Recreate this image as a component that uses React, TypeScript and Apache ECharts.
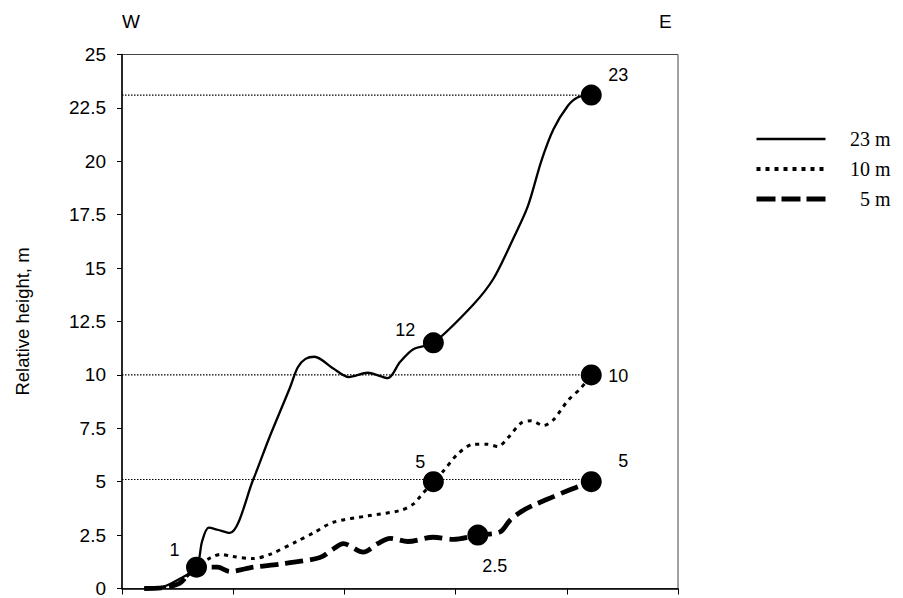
import React, { useEffect, useRef } from "react";
import * as echarts from "echarts";

// Profile W -> E (distance units along the transect)
const x23 = [0.2, 0.35, 0.5, 0.67, 0.72, 0.78, 0.86, 0.97, 1.18, 1.32, 1.51, 1.58, 1.65, 1.73, 1.9, 2.04, 2.21, 2.39, 2.5, 2.62, 2.8, 3.16, 3.34, 3.52, 3.65, 3.77, 3.88, 4.01, 4.1, 4.22];
const y23 = [0, 0.05, 0.4, 1.0, 2.2, 2.85, 2.75, 2.6, 5.1, 7.0, 9.4, 10.35, 10.75, 10.85, 10.3, 9.9, 10.1, 9.85, 10.6, 11.2, 11.5, 13.3, 14.5, 16.4, 17.9, 20.0, 21.5, 22.6, 23.0, 23.1];

const x10 = [0.2, 0.35, 0.52, 0.67, 0.8, 0.89, 0.99, 1.18, 1.33, 1.57, 1.72, 1.9, 2.21, 2.5, 2.62, 2.68, 2.8, 2.89, 3.02, 3.16, 3.29, 3.38, 3.47, 3.59, 3.68, 3.79, 3.88, 4.01, 4.13, 4.22];
const y10 = [0, 0.05, 0.3, 1.0, 1.45, 1.6, 1.5, 1.4, 1.6, 2.2, 2.6, 3.1, 3.4, 3.65, 3.95, 4.3, 5.0, 5.5, 6.3, 6.75, 6.75, 6.65, 7.05, 7.75, 7.85, 7.63, 7.9, 8.8, 9.4, 10.0];

const x5 = [0.2, 0.35, 0.52, 0.67, 0.86, 0.97, 1.18, 1.43, 1.78, 1.9, 1.99, 2.17, 2.3, 2.41, 2.57, 2.8, 2.98, 3.2, 3.4, 3.49, 3.59, 3.7, 3.88, 4.04, 4.22];
const y5 = [0, 0.03, 0.25, 1.0, 1.0, 0.8, 1.0, 1.15, 1.45, 1.85, 2.1, 1.7, 2.1, 2.35, 2.2, 2.4, 2.3, 2.5, 2.65, 3.2, 3.6, 3.9, 4.3, 4.65, 5.0];

const seriesNames = ["23 m", "10 m", "5 m"];

const dotX = [0.67, 2.8, 4.22, 2.8, 4.22, 3.2, 4.22];
const dotY = [1.0, 11.5, 23.1, 5.0, 10.0, 2.5, 5.0];
const dotLabels = ["1", "12", "23", "5", "10", "2.5", "5"];

const refLevels = [23.1, 10.0, 5.1];
const refStart = 0;
const refEnd = 4.13;

const yTicks = [0, 2.5, 5, 7.5, 10, 12.5, 15, 17.5, 20, 22.5, 25];

// label offsets (styling) for the dot annotations
const labelOffsets: [number, number][] = [
  [-22, -17],
  [-28, -13],
  [27, -20],
  [-13, -20],
  [27, 1],
  [17, 31],
  [32, -21],
];

// line styles per series (styling)
const lineStyles: any[] = [
  { color: "#000", width: 2.3, type: "solid" },
  { color: "#000", width: 3, type: [4, 5] },
  { color: "#000", width: 4.8, type: [18, 7] },
];
const legendLineStyles: any[] = [
  { color: "#000", width: 2.6, type: "solid" },
  { color: "#000", width: 4, type: [4, 5] },
  { color: "#000", width: 5, type: [19, 6] },
];

const SANS = "'Liberation Sans', Arial, Helvetica, sans-serif";
const SERIF = "'Liberation Serif', 'Times New Roman', serif";

function zip(xs: number[], ys: number[]) {
  return xs.map((x, i) => [x, ys[i]]);
}

export default function App() {
  const ref = useRef<HTMLDivElement>(null);
  useEffect(() => {
    if (!ref.current) return;
    const chart = echarts.init(ref.current, null, { renderer: "svg" });
    const refSeries = refLevels.map((lvl, i) => ({
      name: "ref" + i,
      type: "line",
      data: [
        [refStart, lvl],
        [refEnd, lvl],
      ],
      symbol: "none",
      silent: true,
      lineStyle: { color: "#000", width: 1.1, type: [1.5, 1.5] },
      z: 1,
    }));
    const curves = [zip(x23, y23), zip(x10, y10), zip(x5, y5)];
    const option: any = {
      animation: false,
      backgroundColor: "#fff",
      grid: { left: 122, right: 225, top: 54.5, bottom: 6, show: true, borderColor: "#444", borderWidth: 1 },
      xAxis: {
        type: "value",
        min: 0,
        max: 5,
        interval: 1,
        axisLine: { show: true, lineStyle: { color: "#000", width: 1.5 } },
        axisTick: { show: true, length: 6, lineStyle: { color: "#000" } },
        axisLabel: { show: false },
        splitLine: { show: false },
      },
      yAxis: {
        type: "value",
        min: 0,
        max: 25,
        interval: 2.5,
        name: "Relative height, m",
        nameLocation: "middle",
        nameGap: 90,
        nameRotate: 90,
        nameTextStyle: { fontFamily: SANS, fontSize: 18.5, color: "#000" },
        axisLine: { show: true, lineStyle: { color: "#000", width: 1.5 } },
        axisTick: { show: true, length: 5, lineStyle: { color: "#000" } },
        axisLabel: {
          fontFamily: SANS,
          fontSize: 19,
          color: "#000",
          margin: 16,
          formatter: (v: number) => (yTicks.includes(v) ? String(v) : ""),
        },
        splitLine: { show: false },
      },
      legend: {
        orient: "vertical",
        left: 749,
        top: 124,
        itemWidth: 69,
        itemHeight: 20,
        itemGap: 10,
        data: seriesNames.map((n, i) => ({ name: n, lineStyle: legendLineStyles[i] })),
        itemStyle: { opacity: 0 },
        formatter: (name: string) => "{r|" + name + "}",
        textStyle: {
          fontFamily: SERIF,
          fontSize: 20,
          color: "#000",
          rich: { r: { fontFamily: SERIF, fontSize: 20, color: "#000", width: 60, align: "right" } },
        },
      },
      graphic: [
        { type: "text", left: 122, top: 12, style: { text: "W", fontFamily: SANS, fontSize: 19, fill: "#000" } },
        { type: "text", left: 659, top: 12, style: { text: "E", fontFamily: SANS, fontSize: 19, fill: "#000" } },
      ],
      series: [
        ...refSeries,
        ...seriesNames.map((n, i) => ({
          name: n,
          type: "line",
          data: curves[i],
          smooth: 0.3,
          symbol: "none",
          lineStyle: lineStyles[i],
          itemStyle: { color: "#000" },
          z: 3,
        })),
        {
          name: "points",
          type: "scatter",
          symbol: "circle",
          symbolSize: 21,
          itemStyle: { color: "#000", opacity: 1 },
          z: 5,
          data: dotX.map((x, i) => ({
            value: [x, dotY[i]],
            label: {
              show: true,
              formatter: dotLabels[i],
              position: "inside",
              offset: labelOffsets[i],
              fontFamily: SANS,
              fontSize: 18,
              color: "#000",
            },
          })),
        },
      ],
    };
    chart.setOption(option);
    return () => chart.dispose();
  }, []);
  return <div ref={ref} style={{ width: 903, height: 598, position: "absolute", left: 0, top: 0 }} />;
}
